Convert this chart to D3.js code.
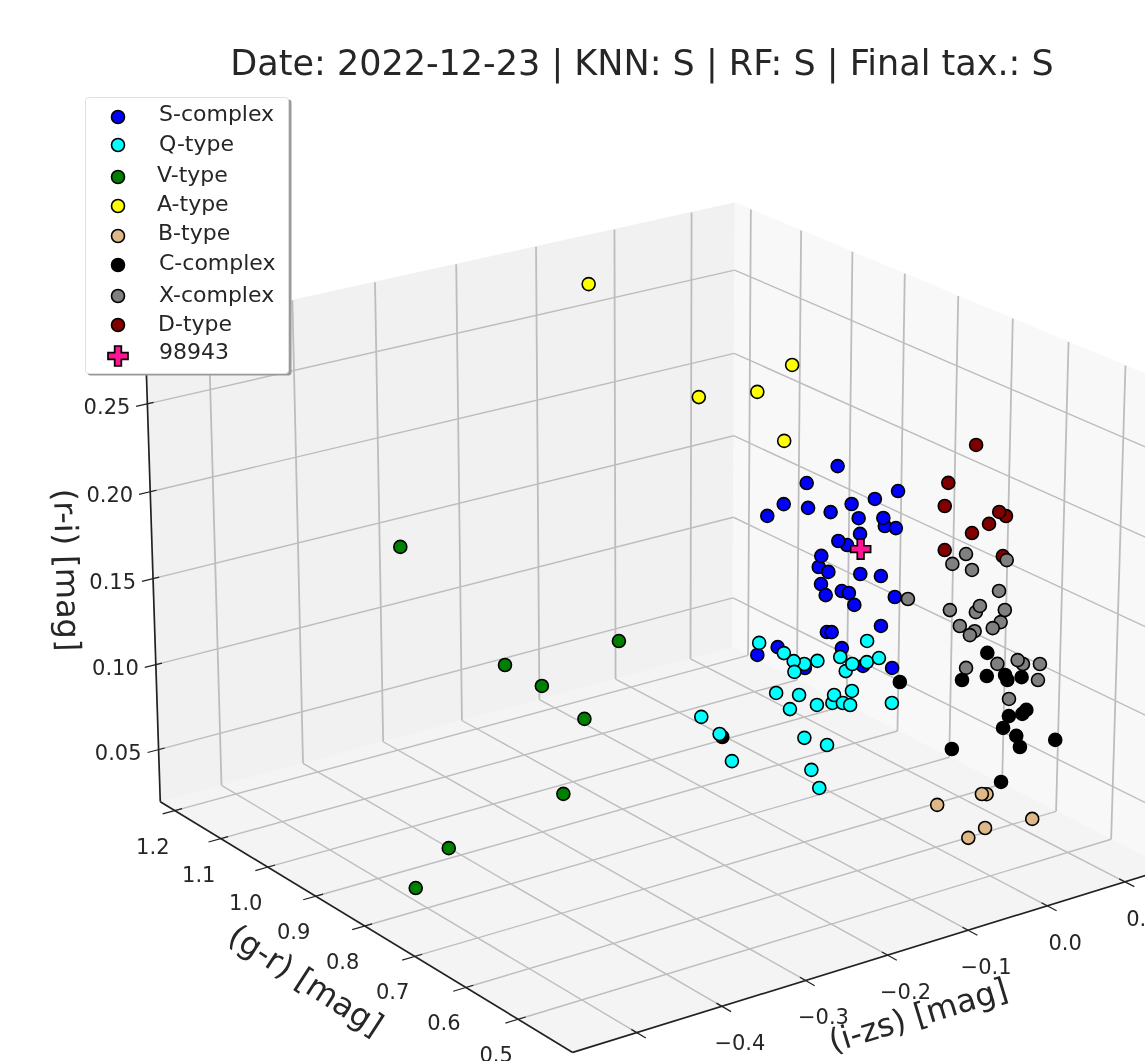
<!DOCTYPE html>
<html><head><meta charset="utf-8">
<script src="https://cdn.jsdelivr.net/npm/d3@7"></script>
<style>html,body{margin:0;background:#fff}svg{display:block;filter:blur(0.6px)}text{font-family:"DejaVu Sans";fill:#262626}</style>
</head><body><svg id="c" width="1145" height="1061"></svg>
<script>
const xTicks=[-0.5,-0.4,-0.3,-0.2,-0.1,0.0,0.1];
const yTicks=[0.5,0.6,0.7,0.8,0.9,1.0,1.1,1.2];
const zTicks=[0.05,0.10,0.15,0.20,0.25];
// i-zs and r-i were read off the picture. A single view cannot fix depth, so g-r is an estimate: one typical value per class, per point for V and A.
const izD=[0.113,0.078,0.074,0.154,0.145,0.132,0.110,0.075,0.151];
const riD=[0.2230,0.2053,0.1925,0.1774,0.1808,0.1754,0.1727,0.1670,0.1545];
const izS=[-0.097,-0.135,-0.021,-0.050,-0.079,-0.163,-0.133,-0.105,-0.183,-0.070,-0.037,-0.039,-0.023,-0.068,-0.084,-0.095,-0.119,-0.116,-0.107,-0.067,-0.041,-0.116,-0.110,-0.090,-0.081,-0.074,-0.023,-0.040,-0.108,-0.102,-0.194,-0.169,-0.135,-0.089,-0.062,-0.025];
const riS=[0.2418,0.2367,0.2191,0.2180,0.2185,0.2282,0.2226,0.2170,0.2240,0.2095,0.2012,0.2060,0.1984,0.2004,0.1960,0.1996,0.1878,0.1937,0.1836,0.1776,0.1733,0.1778,0.1708,0.1707,0.1685,0.1609,0.1592,0.1447,0.1496,0.1488,0.1473,0.1486,0.1325,0.1381,0.1245,0.1187];
const izX=[-0.004,-0.021,0.004,0.048,0.039,-0.076,-0.023,0.010,0.015,0.042,0.047,0.032,-0.010,0.009,0.003,-0.001,0.039,0.072,0.065,0.094,0.092,0.055];
const riX=[0.1960,0.1925,0.1861,0.1864,0.1700,0.1794,0.1667,0.1615,0.1644,0.1519,0.1582,0.1497,0.1561,0.1508,0.1493,0.1311,0.1284,0.1242,0.1273,0.1214,0.1124,0.1062];
const izC=[-0.367,-0.154,-0.046,-0.077,-0.046,-0.023,-0.020,-0.002,0.005,0.000,-0.017,-0.024,-0.007,-0.002,0.043,-0.088,-0.025];
const riC=[0.1549,0.1579,0.1606,0.1493,0.1476,0.1453,0.1421,0.1414,0.1220,0.1204,0.1213,0.1155,0.1088,0.1018,0.1000,0.1119,0.0849];
const izQ=[-0.258,-0.203,-0.216,-0.228,-0.187,-0.215,-0.159,-0.126,-0.152,-0.144,-0.126,-0.111,-0.237,-0.209,-0.220,-0.187,-0.168,-0.166,-0.144,-0.155,-0.146,-0.094,-0.327,-0.305,-0.290,-0.202,-0.174,-0.193,-0.183];
const riQ=[0.1773,0.1587,0.1619,0.1679,0.1584,0.1558,0.1571,0.1620,0.1483,0.1513,0.1501,0.1505,0.1468,0.1421,0.1356,0.1337,0.1324,0.1366,0.1361,0.1307,0.1284,0.1229,0.1450,0.1326,0.1155,0.1171,0.1094,0.0978,0.0862];
const izB=[-0.105,-0.043,-0.049,0.016,-0.044,-0.065];
const riB=[0.0825,0.0803,0.0812,0.0582,0.0611,0.0583];
const izV=[-0.525,-0.509,-0.397,-0.359,-0.330,-0.314,-0.267,-0.293];
const riV=[0.0373,0.0646,0.0869,0.1212,0.1159,0.1105,0.1414,0.1397];
const grV=[0.78,0.74,0.70,0.72,0.85,0.95,0.80,1.20];
const izA=[-0.103,0.013,0.002,-0.027,-0.023];
const riA=[0.2828,0.2527,0.2317,0.2224,0.2185];
const grA=[1.12,0.90,0.95,1.02,0.86];
const izT=[-0.067];
const riT=[0.1917];
const grClass={D:0.70,S:0.65,X:0.55,C:0.45,Q:0.55,B:0.45,T:0.65};
const series={D:[izD,riD],S:[izS,riS],X:[izX,riX],C:[izC,riC],Q:[izQ,riQ],V:[izV,riV,grV],A:[izA,riA,grA],B:[izB,riB],T:[izT,riT]};
const fill={S:"#0000ff",Q:"#00ffff",V:"#008000",A:"#ffff00",B:"#deb887",C:"#000000",X:"#808080",D:"#800000",T:"#ff1493"};
const legendItems=[["S","S-complex"],["Q","Q-type"],["V","V-type"],["A","A-type"],["B","B-type"],["C","C-complex"],["X","X-complex"],["D","D-type"],["T","98943"]];

const xS=d3.scaleLinear().domain([-0.574,0.157]).range([0,1]);
const yS=d3.scaleLinear().domain([0.398,1.232]).range([0,1]);
const zS=d3.scaleLinear().domain([0.019,0.29]).range([0,1]);
const corners=[[0,1,0,160,803],[0,0,0,572,1052],[1,0,0,1168,868],[1,1,0,734,647],[0,1,1,146,332],[1,1,1,733,203],[1,0,1,1186,391]];
function solve(A,b){const n=b.length;const M=A.map((r,i)=>[...r,b[i]]);
 for(let i=0;i<n;i++){let p=i;for(let k=i+1;k<n;k++)if(Math.abs(M[k][i])>Math.abs(M[p][i]))p=k;[M[i],M[p]]=[M[p],M[i]];
  for(let k=0;k<n;k++)if(k!==i){const f=M[k][i]/M[i][i];for(let j=i;j<=n;j++)M[k][j]-=f*M[i][j];}}
 return M.map((r,i)=>r[n]/r[i]);}
const rows=[],rhs=[];
for(const [X,Y,Z,u,v] of corners){rows.push([X,Y,Z,1,0,0,0,0,-u*X,-u*Y,-u*Z]);rhs.push(u);rows.push([0,0,0,0,X,Y,Z,1,-v*X,-v*Y,-v*Z]);rhs.push(v);}
const ATA=d3.range(11).map(i=>d3.range(11).map(j=>d3.sum(rows,r=>r[i]*r[j])));
const ATb=d3.range(11).map(i=>d3.sum(rows,(r,k)=>r[i]*rhs[k]));
const p=solve(ATA,ATb);
function P(X,Y,Z){const w=p[8]*X+p[9]*Y+p[10]*Z+1;return [(p[0]*X+p[1]*Y+p[2]*Z+p[3])/w,(p[4]*X+p[5]*Y+p[6]*Z+p[7])/w];}
const svg=d3.select("#c");
const poly=(pts,f)=>svg.append("polygon").attr("points",pts.map(a=>P(...a).join(",")).join(" ")).attr("fill",f).attr("stroke",f);
poly([[0,1,0],[1,1,0],[1,1,1],[0,1,1]],"#f1f1f1");
poly([[1,0,0],[1,1,0],[1,1,1],[1,0,1]],"#f8f8f8");
poly([[0,0,0],[1,0,0],[1,1,0],[0,1,0]],"#f4f4f4");
const seg=(a,b,c,w)=>svg.append("line").attr("x1",a[0]).attr("y1",a[1]).attr("x2",b[0]).attr("y2",b[1]).attr("stroke",c).attr("stroke-width",w);
const G="#bdbdbd";
for(const x of xTicks){const X=xS(x);seg(P(X,0,0),P(X,1,0),G,1.4);seg(P(X,1,0),P(X,1,1),G,1.8);}
for(const y of yTicks){const Y=yS(y);seg(P(0,Y,0),P(1,Y,0),G,1.4);seg(P(1,Y,0),P(1,Y,1),G,1.8);}
for(const z of zTicks){const Z=zS(z);seg(P(0,1,Z),P(1,1,Z),G,1.4);seg(P(1,1,Z),P(1,0,Z),G,1.4);}
const K="#222";
seg(P(0,1,0),P(0,0,0),K,1.7);seg(P(0,0,0),P(1,0,0),K,1.7);seg(P(0,1,0),P(0,1,1),K,1.7);
const lab=(t,q,dx,dy,anchor)=>svg.append("text").attr("x",q[0]+dx).attr("y",q[1]+dy).attr("text-anchor",anchor||"middle").attr("dominant-baseline","central").attr("font-size",21).text(t);
const fmt=d3.format(".1f"),fz=d3.format(".2f");
const minus=s=>s.replace("-","\u2212");
for(const x of xTicks){const X=xS(x);seg(P(X,-0.02,0),P(X,0.012,0),K,1.2);if(x>-0.45)lab(minus(fmt(x)),P(X,0,0),18,37);}
for(const y of yTicks){const Y=yS(y);seg(P(-0.02,Y,0),P(0.012,Y,0),K,1.2);lab(fmt(y),P(0,Y,0),-22,36);}
for(const z of zTicks){const Z=zS(z);seg(P(-0.018,1,Z),P(0.01,1,Z),K,1.2);lab(fz(z),P(0,1,Z),-17,3,"end");}
const big=(t,x,y,r)=>svg.append("text").attr("transform",`translate(${x},${y}) rotate(${r})`).attr("text-anchor","middle").attr("dominant-baseline","central").attr("font-size",32).text(t);
big("(g-r) [mag]",306,980,33);big("(i-zs) [mag]",918,1015,-17);big("(r-i) [mag]",67,570,88.5);
svg.append("text").attr("x",642).attr("y",63).attr("text-anchor","middle").attr("dominant-baseline","central").attr("font-size",35).text("Date: 2022-12-23 | KNN: S | RF: S | Final tax.: S");
const cross=d3.symbol().type(d3.symbolCross).size(222)();
for(const k of ["D","S","X","C","Q","V","A","B","T"]){
 const [iz,ri,gr]=series[k];
 const data=iz.map((x,i)=>P(xS(x),yS(gr?gr[i]:grClass[k]),zS(ri[i])));
 const g=svg.append("g");
 if(k==="T")g.selectAll("path").data(data).join("path").attr("d",cross).attr("transform",d=>`translate(${d})`).attr("fill",fill[k]).attr("stroke","#000").attr("stroke-width",1.7);
 else g.selectAll("circle").data(data).join("circle").attr("cx",d=>d[0]).attr("cy",d=>d[1]).attr("r",6.5).attr("fill",fill[k]).attr("stroke","#000").attr("stroke-width",1.6);
}
svg.append("rect").attr("x",87.5).attr("y",99.5).attr("width",204).attr("height",276).attr("rx",3).attr("fill","#9a9a9a");
svg.append("rect").attr("x",85.5).attr("y",97.5).attr("width",203).attr("height",276).attr("rx",3).attr("fill","#fff").attr("stroke","#e0e0e0");
const lm=[117,145,177,206,236,265,296,325,356],lt=[113,143,174,203,232,262,294,323,351],lx=[159,159,157,157,158,159,159,158,159];
legendItems.forEach(([k,t],i)=>{
 if(k==="T")svg.append("path").attr("d",cross).attr("transform",`translate(118,${lm[i]})`).attr("fill",fill[k]).attr("stroke","#000").attr("stroke-width",1.7);
 else svg.append("circle").attr("cx",118).attr("cy",lm[i]).attr("r",6.5).attr("fill",fill[k]).attr("stroke","#000").attr("stroke-width",1.6);
 svg.append("text").attr("x",lx[i]).attr("y",lt[i]).attr("dominant-baseline","central").attr("font-size",22).text(t);
});
</script></body></html>
